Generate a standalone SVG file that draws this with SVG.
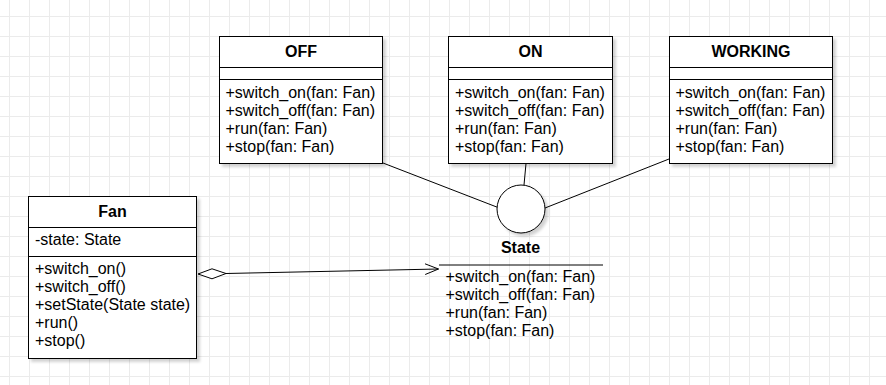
<svg xmlns="http://www.w3.org/2000/svg" width="886" height="385" viewBox="0 0 886 385">
<defs>
<pattern id="grid" x="9" y="16" width="20" height="20" patternUnits="userSpaceOnUse">
<path d="M0.5,0 V20 M0,0.5 H20" fill="none" stroke="#ebebeb" stroke-width="1"/>
</pattern>
<filter id="sh" x="-10%" y="-10%" width="130%" height="130%">
<feGaussianBlur in="SourceAlpha" stdDeviation="1.5"/>
<feOffset dx="3" dy="3"/>
<feComponentTransfer><feFuncA type="linear" slope="0.18"/></feComponentTransfer>
<feMerge><feMergeNode/><feMergeNode in="SourceGraphic"/></feMerge>
</filter>
<style>
.box{fill:#fff;stroke:#000;stroke-width:1}
.ln{stroke:#000;stroke-width:1;fill:none}
.t{font-family:"Liberation Sans",Arial,Helvetica,sans-serif;font-size:16px;fill:#000}
.h{font-weight:bold;text-anchor:middle}
</style>
</defs>
<rect width="886" height="385" fill="#fff"/>
<rect width="886" height="385" fill="url(#grid)"/>

<g id="connectors">
<line class="ln" x1="383" y1="163" x2="498" y2="207.5"/>
<line class="ln" x1="526" y1="163.5" x2="524" y2="185"/>
<line class="ln" x1="669" y1="159" x2="545" y2="208"/>
<line class="ln" x1="226" y1="273.5" x2="438.5" y2="269"/>
<path class="ln" d="M425,263.8 L438.5,269 L425.2,274.5"/>
<path d="M198,274 L212,268.8 L226,273.5 L212,278.8 Z" fill="#fff" stroke="#000" stroke-width="1"/>
</g>

<g id="OFF">
<rect class="box" filter="url(#sh)" x="219.5" y="36.5" width="163" height="127"/>
<line class="ln" x1="219.5" y1="67.5" x2="382.5" y2="67.5"/>
<line class="ln" x1="219.5" y1="79.5" x2="382.5" y2="79.5"/>
<text class="t h" x="301" y="56.7">OFF</text>
<text class="t" x="225.5" y="98">+switch_on(fan: Fan)</text>
<text class="t" x="225.5" y="116">+switch_off(fan: Fan)</text>
<text class="t" x="225.5" y="134">+run(fan: Fan)</text>
<text class="t" x="225.5" y="152">+stop(fan: Fan)</text>
</g>

<g id="ON">
<rect class="box" filter="url(#sh)" x="448.5" y="36.5" width="164" height="127"/>
<line class="ln" x1="448.5" y1="67.5" x2="612.5" y2="67.5"/>
<line class="ln" x1="448.5" y1="79.5" x2="612.5" y2="79.5"/>
<text class="t h" x="530.5" y="56.7">ON</text>
<text class="t" x="455" y="98">+switch_on(fan: Fan)</text>
<text class="t" x="455" y="116">+switch_off(fan: Fan)</text>
<text class="t" x="455" y="134">+run(fan: Fan)</text>
<text class="t" x="455" y="152">+stop(fan: Fan)</text>
</g>

<g id="WORKING">
<rect class="box" filter="url(#sh)" x="669.5" y="36.5" width="163" height="127"/>
<line class="ln" x1="669.5" y1="67.5" x2="832.5" y2="67.5"/>
<line class="ln" x1="669.5" y1="79.5" x2="832.5" y2="79.5"/>
<text class="t h" x="751" y="56.7">WORKING</text>
<text class="t" x="675.5" y="98">+switch_on(fan: Fan)</text>
<text class="t" x="675.5" y="116">+switch_off(fan: Fan)</text>
<text class="t" x="675.5" y="134">+run(fan: Fan)</text>
<text class="t" x="675.5" y="152">+stop(fan: Fan)</text>
</g>

<g id="Fan">
<rect class="box" filter="url(#sh)" x="28.5" y="196.5" width="168" height="162"/>
<line class="ln" x1="28.5" y1="227.5" x2="196.5" y2="227.5"/>
<line class="ln" x1="28.5" y1="256.5" x2="196.5" y2="256.5"/>
<text class="t h" x="112.5" y="216.7">Fan</text>
<text class="t" x="35" y="244.5">-state: State</text>
<text class="t" x="35" y="274">+switch_on()</text>
<text class="t" x="35" y="292">+switch_off()</text>
<text class="t" x="35" y="310">+setState(State state)</text>
<text class="t" x="35" y="328">+run()</text>
<text class="t" x="35" y="346">+stop()</text>
</g>

<g id="State">
<circle class="box" filter="url(#sh)" cx="521" cy="209" r="24"/>
<text class="t h" x="520.5" y="253">State</text>
<line class="ln" x1="439" y1="265" x2="603" y2="265"/>
<text class="t" x="445.5" y="282">+switch_on(fan: Fan)</text>
<text class="t" x="445.5" y="300">+switch_off(fan: Fan)</text>
<text class="t" x="445.5" y="318">+run(fan: Fan)</text>
<text class="t" x="445.5" y="336">+stop(fan: Fan)</text>
</g>
</svg>
